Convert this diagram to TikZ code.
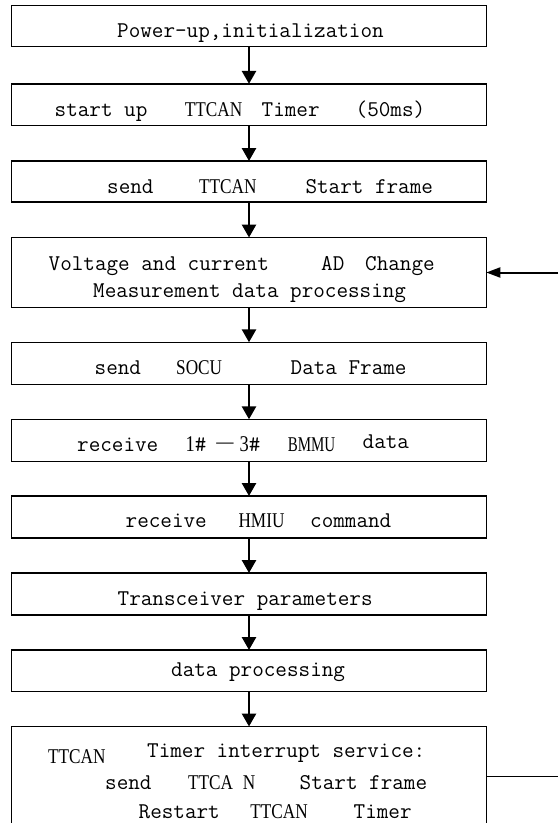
\documentclass[tikz,border=0pt]{standalone}
\usepackage{fontspec}
\setmainfont{Latin Modern Mono}
\newfontfamily\tnr[FakeStretch=0.82]{Liberation Serif}
\usetikzlibrary{arrows.meta}
\begin{document}
\begin{tikzpicture}[x=1pt,y=-1pt,
  box/.style={draw, line width=1.3pt, minimum width=474.6pt, inner sep=0pt, outer sep=0pt},
  mw/.style={anchor=base west, inner sep=0pt, font=\fontsize{22.5pt}{24pt}\selectfont},
  tw/.style={anchor=base, inner sep=0pt, font=\fontsize{21pt}{23pt}\selectfont\tnr},
  varrow/.style={line width=2.7pt, -{Triangle[length=13pt,width=14pt]}},
  harrow/.style={line width=2pt, -{Triangle[length=14pt,width=10pt]}},
  fline/.style={line width=1pt}]
\useasboundingbox (0,0) rectangle (558,823);
% boxes
\node[box, minimum height=40.8pt] (b1) at (249,26.1) {};
\node[box, minimum height=41.5pt] (b2) at (249,104.6) {};
\node[box, minimum height=41pt] (b3) at (249,181.5) {};
\node[box, minimum height=70pt] (b4) at (249,272.5) {};
\node[box, minimum height=42pt] (b5) at (249,363.3) {};
\node[box, minimum height=42pt] (b6) at (249,440.3) {};
\node[box, minimum height=42pt] (b7) at (249,517) {};
\node[box, minimum height=42pt] (b8) at (249,594) {};
\node[box, minimum height=41.5pt] (b9) at (249,670.75) {};
\node[box, minimum height=123.5pt] (b10) at (249,788.25) {};
% texts
\node[mw] (t1) at (117,37.7) {Power-up,initialization};
\node[mw] (t2a) at (54.5,116) {start up};
\node[tw] (t2b) at (213.5,116) {TTCAN};
\node[mw] (t2c) at (261.5,116) {Timer};
\node[mw] (t2d) at (355.5,116) {(50ms)};
\node[mw] (t3a) at (107,193.3) {send};
\node[tw] (t3b) at (227.8,193.3) {TTCAN};
\node[mw] (t3c) at (305.3,193.3) {Start frame};
\node[mw] (t4a) at (48.5,270) {Voltage and current};
\node[mw] (t4b) at (321,270) {AD};
\node[mw] (t4c) at (365,270) {Change};
\node[mw] (t4d) at (93,297.5) {Measurement data processing};
\node[mw] (t5a) at (94.5,374) {send};
\node[tw] (t5b) at (199.2,374) {SOCU};
\node[mw] (t5c) at (290.5,374) {Data Frame};
\node[mw] (t6a) at (77,451) {receive};
\node[mw] (t6b) at (185.5,451) {{\tnr 1}\#};
\node[tw] (t6c) at (225,451) {\raisebox{2.5pt}{—}};
\node[mw] (t6d) at (239.5,451) {{\tnr 3}\#};
\node[tw] (t6e) at (311.5,451) {\scalebox{0.87}[1]{BMMU}};
\node[mw] (t6f) at (362.5,448) {data};
\node[mw] (t7a) at (125.5,527.7) {receive};
\node[tw] (t7b) at (261.5,527.7) {HMIU};
\node[mw] (t7c) at (310,527.7) {command};
\node[mw] (t8) at (117.5,605) {Transceiver parameters};
\node[mw] (t9) at (171,676.7) {data processing};
\node[tw] (t10a) at (76.8,763) {TTCAN};
\node[mw] (t10b) at (147,757) {Timer interrupt service:};
\node[mw] (t10c) at (105,789.5) {send};
\node[tw] (t10d) at (221.7,789.5) {TTCA\hspace{10pt}N};
\node[mw] (t10e) at (299.5,789.5) {Start frame};
\node[mw] (t10f) at (138.5,818) {Restart};
\node[tw] (t10g) at (279,818) {TTCAN};
\node[mw] (t10h) at (353.5,818) {Timer};
% arrows
\draw[varrow] (b1.south) -- (b2.north);
\draw[varrow] (b2.south) -- (b3.north);
\draw[varrow] (b3.south) -- (b4.north);
\draw[varrow] (b4.south) -- (b5.north);
\draw[varrow] (b5.south) -- (b6.north);
\draw[varrow] (b6.south) -- (b7.north);
\draw[varrow] (b7.south) -- (b8.north);
\draw[varrow] (b8.south) -- (b9.north);
\draw[varrow] (b9.south) -- (b10.north);
% feedback
\coordinate (fb1) at (558,776);
\coordinate (fb2) at (558,272.5);
\draw[fline] (b10.east |- fb1) -- (fb1);
\draw[harrow] (fb2) -- (b4.east);
\end{tikzpicture}
\end{document}
